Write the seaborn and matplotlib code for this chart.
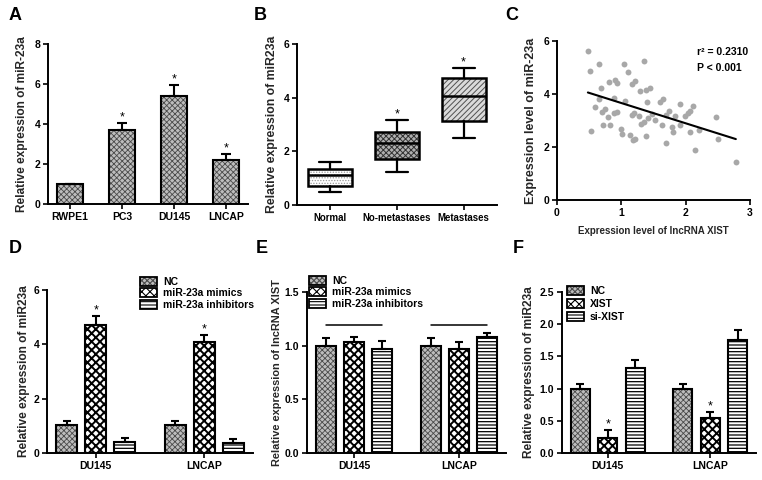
import matplotlib
matplotlib.use("Agg")
import matplotlib.pyplot as plt
import numpy as np
import pandas as pd
import seaborn as sns
from matplotlib.patches import Rectangle, PathPatch, Patch
from matplotlib.legend_handler import HandlerTuple

# ---------------- data ----------------
a_cells = ["RWPE1", "PC3", "DU145", "LNCAP"]
a_mean = [1.00, 3.72, 5.42, 2.22]
a_err = [0.02, 0.32, 0.52, 0.27]
a_star = [False, True, True, True]

b_groups = ["Normal", "No-metastases", "Metastases"]
b_whislo = [0.50, 1.22, 2.50]
b_q1 = [0.72, 1.71, 3.13]
b_med = [1.10, 2.30, 4.05]
b_q3 = [1.33, 2.73, 4.72]
b_whishi = [1.60, 3.16, 5.09]
b_star = [False, True, True]

c_xist = [0.48, 0.51, 0.66, 0.69, 0.65, 0.59, 0.53, 0.70, 0.72, 0.75,
          0.81, 0.80, 0.83, 0.90, 0.93, 0.89, 0.89, 0.94, 0.99, 1.01,
          1.04, 1.06, 1.11, 1.16, 1.21, 1.14, 1.18, 1.21, 1.16, 1.19,
          1.29, 1.28, 1.35, 1.31, 1.35, 1.39, 1.44, 1.40, 1.38, 1.42,
          1.47, 1.53, 1.60, 1.64, 1.63, 1.69, 1.69, 1.74, 1.79, 1.81,
          1.83, 1.91, 1.91, 1.99, 2.03, 2.06, 2.07, 2.11, 2.14, 2.21,
          2.47, 2.50, 2.78]
c_mir = [5.64, 4.87, 5.12, 4.21, 3.81, 3.50, 2.60, 3.31, 2.83, 3.45,
         4.45, 3.12, 2.83, 4.52, 4.43, 3.86, 3.27, 3.31, 2.67, 2.49,
         5.12, 3.75, 4.82, 4.36, 4.48, 2.44, 2.26, 2.30, 3.21, 3.27,
         4.13, 3.17, 5.26, 2.86, 2.93, 4.15, 4.21, 3.69, 2.42, 3.08,
         3.23, 3.02, 3.70, 3.80, 2.82, 2.14, 3.21, 3.35, 2.75, 2.57,
         3.18, 3.61, 2.84, 3.16, 3.30, 3.36, 2.58, 3.55, 1.89, 2.63,
         3.14, 2.30, 1.45]
c_r2_text = "r\u00b2 = 0.2310"
c_p_text = "P < 0.001"

cells = ["DU145", "LNCAP"]

d_groups = ["NC", "miR-23a mimics", "miR-23a inhibitors"]
d_nc = [1.02, 1.02]
d_nc_err = [0.14, 0.15]
d_mimics = [4.71, 4.10]
d_mimics_err = [0.33, 0.24]
d_inhib = [0.41, 0.37]
d_inhib_err = [0.15, 0.13]
d_star = [[False, False], [True, True], [False, False]]

e_groups = ["NC", "miR-23a mimics", "miR-23a inhibitors"]
e_nc = [1.00, 1.00]
e_nc_err = [0.07, 0.07]
e_mimics = [1.03, 0.97]
e_mimics_err = [0.05, 0.06]
e_inhib = [0.97, 1.08]
e_inhib_err = [0.07, 0.04]
e_ns_level = 1.19

f_groups = ["NC", "XIST", "si-XIST"]
f_nc = [1.00, 1.00]
f_nc_err = [0.07, 0.07]
f_xist = [0.24, 0.54]
f_xist_err = [0.11, 0.10]
f_si = [1.32, 1.76]
f_si_err = [0.12, 0.15]
f_star = [[False, False], [True, True], [False, False]]

# ---------------- style ----------------
sns.set_style("ticks")
plt.rcParams.update({
    "font.weight": "bold",
    "axes.labelweight": "bold",
    "axes.linewidth": 1.4,
    "xtick.major.width": 1.2,
    "ytick.major.width": 1.2,
    "xtick.major.size": 3.5,
    "ytick.major.size": 3.5,
    "xtick.major.pad": 2,
    "ytick.major.pad": 2,
    "xtick.labelsize": 7.5,
    "ytick.labelsize": 7.5,
    "xtick.color": "black",
    "ytick.color": "black",
    "axes.edgecolor": "black",
    "text.color": "black",
    "hatch.linewidth": 0.8,
})
plt.rcParams["font.family"] = ["Liberation Sans", "DejaVu Sans"]

STY = {
    "nc": dict(face="#bdbdbd", hatch="xxxxxx", hc="#4a4a4a", hlw=0.6),
    "mim": dict(face="white", hatch="xxxx", hc="black", hlw=1.4),
    "inh": dict(face="white", hatch="-----", hc="black", hlw=0.9),
    "bn": dict(face="white", hatch="......", hc="#9a9a9a", hlw=0.6),
    "bno": dict(face="#b0b0b0", hatch="xxxxxx", hc="#333333", hlw=0.7),
    "bme": dict(face="#dadada", hatch="//////", hc="#505050", hlw=0.7),
}

W, H = 762, 480
fig = plt.figure(figsize=(W / 100, H / 100), dpi=100)


def add_axes(l, r, t, b):
    return fig.add_axes([l / W, 1 - b / H, (r - l) / W, (b - t) / H])


def set_hlw(p, lw):
    try:
        p.set_hatch_linewidth(lw)
    except AttributeError:
        pass


def style_bar(ax, p, st, lw=1.5):
    p.set_facecolor(st["face"])
    p.set_hatch(st["hatch"])
    p.set_edgecolor(st["hc"])
    p.set_linewidth(0)
    set_hlw(p, st["hlw"])
    ax.add_patch(Rectangle((p.get_x(), p.get_y()), p.get_width(), p.get_height(),
                           fill=False, edgecolor="black", lw=lw,
                           zorder=p.get_zorder() + 0.5))


def err_up(ax, x, y, e, cap=3.5):
    ax.errorbar([x], [y], yerr=[[0], [e]], fmt="none", ecolor="black",
                elinewidth=1.5, capsize=cap, capthick=1.5, zorder=1)


def star(ax, x, y):
    ax.annotate("*", (x, y), xytext=(0, 2), textcoords="offset points",
                ha="center", va="baseline", fontsize=9, fontweight="normal")


def ylab(ax, text, size, xpx, lpx):
    ax.set_ylabel(text, fontsize=size, fontweight="bold")
    w = ax.get_position().width * W
    ax.yaxis.set_label_coords((xpx - lpx) / w, 0.5)


def clean(ax):
    sns.despine(ax=ax)
    ax.set_xlabel("")


def handles(keys):
    hs = []
    for k in keys:
        st = STY[k]
        p1 = Patch(facecolor=st["face"], edgecolor=st["hc"], hatch=st["hatch"], lw=0)
        set_hlw(p1, st["hlw"])
        p2 = Patch(fill=False, edgecolor="black", lw=1.3)
        hs.append((p1, p2))
    return hs


def leg(ax, keys, labels, x, y, spacing=0.05):
    fs = 7.5
    ax.legend(handles(keys), labels, handler_map={tuple: HandlerTuple(ndivide=1)},
              loc="upper left", bbox_to_anchor=(x, y), frameon=False,
              borderpad=0, borderaxespad=0, handlelength=12.2 / fs, handleheight=7.2 / fs,
              handletextpad=4.3 / fs, labelspacing=spacing, fontsize=fs)


# ---------------- panel A ----------------
axA = add_axes(48, 248, 44, 204)
dfA = pd.DataFrame({"cell": a_cells, "val": a_mean})
sns.barplot(data=dfA, x="cell", y="val", ax=axA, width=0.5, errorbar=None, color="#cccccc")
for p, e, s in zip(list(axA.containers[0]), a_err, a_star):
    style_bar(axA, p, STY["nc"])
    xc = p.get_x() + p.get_width() / 2
    err_up(axA, xc, p.get_height(), e)
    if s:
        star(axA, xc, p.get_height() + e)
axA.set_ylim(0, 8)
axA.set_yticks([0, 2, 4, 6, 8])
clean(axA)
ylab(axA, "Relative expression of miR-23a", 8.6, 28, 48)

# ---------------- panel B ----------------
axB = add_axes(297, 497, 44, 205)
stats = [dict(label=g, whislo=a, q1=b, med=c, q3=d, whishi=e, fliers=[])
         for g, a, b, c, d, e in zip(b_groups, b_whislo, b_q1, b_med, b_q3, b_whishi)]
bp = axB.bxp(stats, positions=range(len(stats)), widths=0.66, capwidths=0.33,
             patch_artist=True, showfliers=False,
             medianprops=dict(color="black", lw=1.8),
             whiskerprops=dict(color="black", lw=1.6),
             capprops=dict(color="black", lw=1.6))
for box, key in zip(bp["boxes"], ["bn", "bno", "bme"]):
    st = STY[key]
    box.set_facecolor(st["face"])
    box.set_hatch(st["hatch"])
    box.set_edgecolor(st["hc"])
    box.set_linewidth(0)
    set_hlw(box, st["hlw"])
    axB.add_patch(PathPatch(box.get_path(), fill=False, edgecolor="black", lw=1.8,
                            zorder=box.get_zorder() + 0.5))
for i, (hi, s) in enumerate(zip(b_whishi, b_star)):
    if s:
        star(axB, i, hi)
axB.set_xlim(-0.5, 2.5)
axB.set_ylim(0, 6)
axB.set_yticks([0, 2, 4, 6])
axB.set_xticks(range(3))
axB.set_xticklabels(b_groups, fontsize=6.9)
clean(axB)
ylab(axB, "Relative expression of miR23a", 8.8, 278, 297)

# ---------------- panel C ----------------
axC = add_axes(557, 750, 41, 200)
sns.regplot(x=np.array(c_xist), y=np.array(c_mir), ax=axC, ci=None, truncate=True,
            scatter_kws=dict(s=18, color="#a8a8a8", linewidths=0, alpha=1),
            line_kws=dict(color="black", lw=1.5))
axC.set_xlim(0, 3)
axC.set_ylim(0, 6)
axC.set_xticks([0, 1, 2, 3])
axC.set_yticks([0, 2, 4, 6])
clean(axC)
axC.set_xlabel("Expression level of lncRNA XIST", fontsize=7, labelpad=6)
ylab(axC, "Expression level of miR-23a", 9.0, 537, 557)
axC.text(0.725, 0.93, c_r2_text, transform=axC.transAxes, fontsize=7.5, ha="left", va="center")
axC.text(0.725, 0.83, c_p_text, transform=axC.transAxes, fontsize=7.5, ha="left", va="center")


# ---------------- grouped bar panels ----------------
def grouped(ax, groups, means, errs, stars, keys, gap):
    rows = []
    for g, m in zip(groups, means):
        for c, v in zip(cells, m):
            rows.append(dict(cell=c, grp=g, val=v))
    df = pd.DataFrame(rows)
    sns.barplot(data=df, x="cell", y="val", hue="grp", hue_order=groups, order=cells,
                ax=ax, width=0.8, gap=gap, errorbar=None, legend=False,
                palette=["#cccccc"] * len(groups))
    centers = []
    for cont, key, e_list, s_list in zip(ax.containers, keys, errs, stars):
        cc = []
        for p, e, s in zip(list(cont), e_list, s_list):
            style_bar(ax, p, STY[key])
            xc = p.get_x() + p.get_width() / 2
            err_up(ax, xc, p.get_height(), e, cap=3)
            if s:
                star(ax, xc, p.get_height() + e)
            cc.append(xc)
        centers.append(cc)
    clean(ax)
    return centers


axD = add_axes(47, 253, 290, 453)
grouped(axD, d_groups, [d_nc, d_mimics, d_inhib], [d_nc_err, d_mimics_err, d_inhib_err],
        d_star, ["nc", "mim", "inh"], 0.27)
axD.set_ylim(0, 6)
axD.set_yticks([0, 2, 4, 6])
ylab(axD, "Relative expression of miR23a", 8.6, 30, 47)
leg(axD, ["nc", "mim", "inh"], d_groups, 0.451, 1.08, 0.12)

axE = add_axes(307, 506, 292, 453)
cE = grouped(axE, e_groups, [e_nc, e_mimics, e_inhib], [e_nc_err, e_mimics_err, e_inhib_err],
             [[False] * 2] * 3, ["nc", "mim", "inh"], 0.28)
for j in range(len(cells)):
    axE.plot([cE[0][j], cE[2][j]], [e_ns_level, e_ns_level], color="black", lw=1.1)
axE.set_ylim(0, 1.5)
axE.set_yticks([0, 0.5, 1.0, 1.5])
axE.set_yticklabels(["0.0", "0.5", "1.0", "1.5"])
ylab(axE, "Relative expression of lncRNA XIST", 7.9, 282, 307)
leg(axE, ["nc", "mim", "inh"], e_groups, 0.01, 1.10, 0.12)

axF = add_axes(562, 756, 292, 453)
grouped(axF, f_groups, [f_nc, f_xist, f_si], [f_nc_err, f_xist_err, f_si_err],
        f_star, ["nc", "mim", "inh"], 0.3)
axF.set_ylim(0, 2.5)
axF.set_yticks([0, 0.5, 1.0, 1.5, 2.0, 2.5])
axF.set_yticklabels(["0.0", "0.5", "1.0", "1.5", "2.0", "2.5"])
ylab(axF, "Relative expression of miR23a", 8.6, 535, 562)
leg(axF, ["nc", "mim", "inh"], f_groups, 0.026, 1.04, 0.3)

# ---------------- panel letters ----------------
for lab, x, y in [("A", 15, 16), ("B", 260, 16), ("C", 512, 16),
                  ("D", 15, 248), ("E", 262, 248), ("F", 518, 248)]:
    fig.text(x / W, 1 - y / H, lab, fontsize=13, fontweight="bold", ha="center", va="center")

fig.savefig("out.png", dpi=100)
